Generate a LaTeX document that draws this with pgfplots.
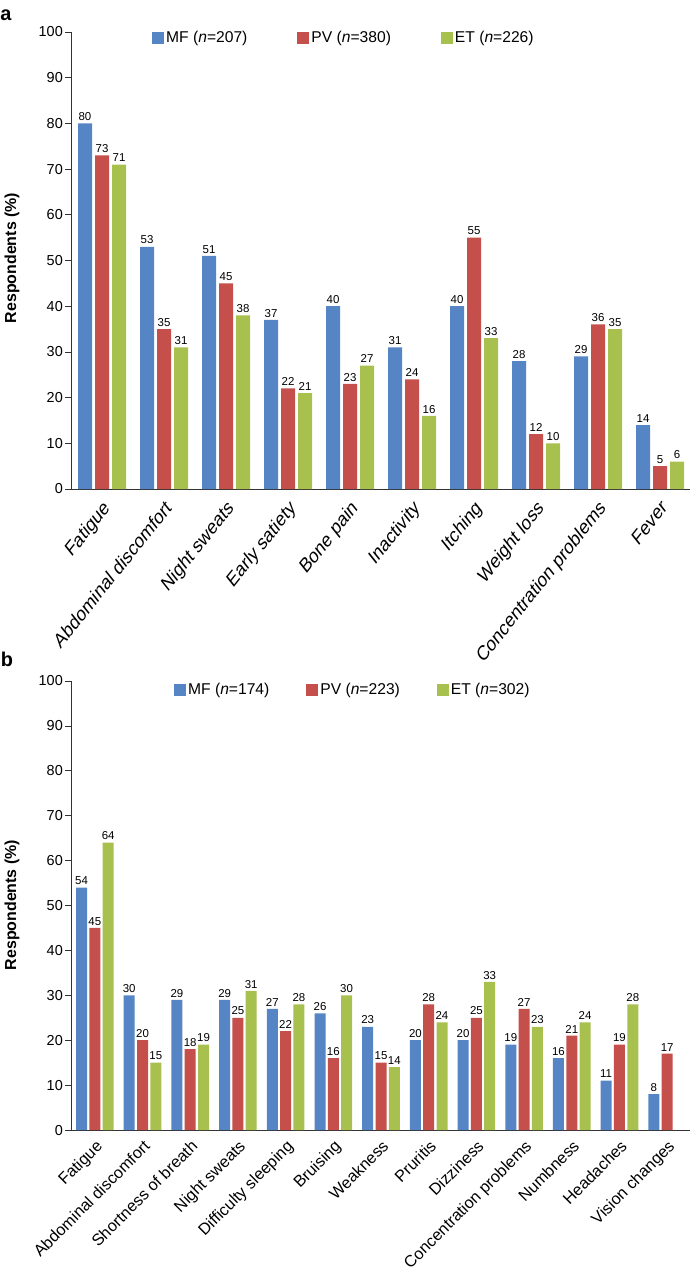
\documentclass[border=0pt]{standalone}
\usepackage{pgfplots}
\pgfplotsset{compat=1.18}
\usepackage{fontspec}
\setmainfont{Liberation Sans}
\definecolor{cMF}{HTML}{5585C4}
\definecolor{cPV}{HTML}{C5504B}
\definecolor{cET}{HTML}{A8C04E}
\definecolor{axc}{HTML}{333333}
\pgfplotsset{
  sqlegend/.style={legend image code/.code={\fill[##1,draw=none] (0bp,-6bp) rectangle (12bp,6bp);}},
  common/.style={
    scale only axis, width=620bp,
    ybar, ymin=0, ymax=100, ytick={0,10,...,100},
    axis x line=bottom, axis y line=left,
    axis line style={-, draw=axc, line width=0.8bp},
    tick align=outside, major tick length=6bp,
    ytick style={draw=axc, line width=0.8bp},
    xtick style={draw=none},
    /pgf/number format/assume math mode=true,
    yticklabel style={font=\fontsize{14.5}{15}\selectfont, inner sep=2bp},
    nodes near coords,
    every node near coord/.append style={font=\fontsize{11.5}{12}\selectfont, black, inner sep=2.5bp},
    legend columns=3,
    legend style={draw=none, fill=none, inner sep=0pt, anchor=west,
      font=\fontsize{15.7}{16}\selectfont},
  }
}
\begin{document}
\begin{tikzpicture}[x=1bp,y=1bp]
\useasboundingbox (0,0) rectangle (690,-1270);
\node[font=\fontsize{20}{20}\selectfont\bfseries] at (6,-15) {a};
\node[font=\fontsize{20}{20}\selectfont\bfseries] at (7,-659) {b};
\node[rotate=90, font=\fontsize{16}{16}\selectfont\bfseries] at (12,-258) {Respondents (\%)};
\node[rotate=90, font=\fontsize{16}{16}\selectfont\bfseries] at (12,-905) {Respondents (\%)};

\begin{axis}[common,
  at={(71bp,-489bp)}, anchor=south west, height=457bp,
  xmin=-0.5, xmax=9.5,
  bar width=14bp, ybar=3bp,
  xtick={0,...,9},
  xticklabels={Fatigue,Abdominal discomfort,Night sweats,Early satiety,Bone pain,Inactivity,Itching,Weight loss,Concentration problems,Fever},
  xticklabel style={font=\fontsize{16.5}{17}\selectfont, anchor=north east, yscale=1.25, rotate=45, inner sep=2bp},
  legend style={at={(axis description cs:0.1306,0.987)},
    /tikz/every even column/.append style={column sep=48bp}},
]
\addplot[fill=cMF, draw=none, sqlegend] coordinates {(0,80) (1,53) (2,51) (3,37) (4,40) (5,31) (6,40) (7,28) (8,29) (9,14)};
\addplot[fill=cPV, draw=none, sqlegend] coordinates {(0,73) (1,35) (2,45) (3,22) (4,23) (5,24) (6,55) (7,12) (8,36) (9,5)};
\addplot[fill=cET, draw=none, sqlegend] coordinates {(0,71) (1,31) (2,38) (3,21) (4,27) (5,16) (6,33) (7,10) (8,35) (9,6)};
\legend{MF (\textit{n}=207), PV (\textit{n}=380), ET (\textit{n}=226)}
\end{axis}

\begin{axis}[common,
  at={(71bp,-1130bp)}, anchor=south west, height=449bp,
  xmin=-0.5, xmax=12.5,
  bar width=11bp, ybar=2.3bp,
  xtick={0,...,12},
  xticklabels={Fatigue,Abdominal discomfort,Shortness of breath,Night sweats,Difficulty sleeping,Bruising,Weakness,Pruritis,Dizziness,Concentration problems,Numbness,Headaches,Vision changes},
  xticklabel style={font=\fontsize{16.3}{17}\selectfont, anchor=north east, rotate=45, inner sep=2bp},
  legend style={at={(axis description cs:0.166,0.98)},
    /tikz/every even column/.append style={column sep=35bp}},
]
\addplot[fill=cMF, draw=none, sqlegend] coordinates {(0,54) (1,30) (2,29) (3,29) (4,27) (5,26) (6,23) (7,20) (8,20) (9,19) (10,16) (11,11) (12,8)};
\addplot[fill=cPV, draw=none, sqlegend] coordinates {(0,45) (1,20) (2,18) (3,25) (4,22) (5,16) (6,15) (7,28) (8,25) (9,27) (10,21) (11,19) (12,17)};
\addplot[fill=cET, draw=none, sqlegend] coordinates {(0,64) (1,15) (2,19) (3,31) (4,28) (5,30) (6,14) (7,24) (8,33) (9,23) (10,24) (11,28)};
\legend{MF (\textit{n}=174), PV (\textit{n}=223), ET (\textit{n}=302)}
\end{axis}
\end{tikzpicture}
\end{document}
